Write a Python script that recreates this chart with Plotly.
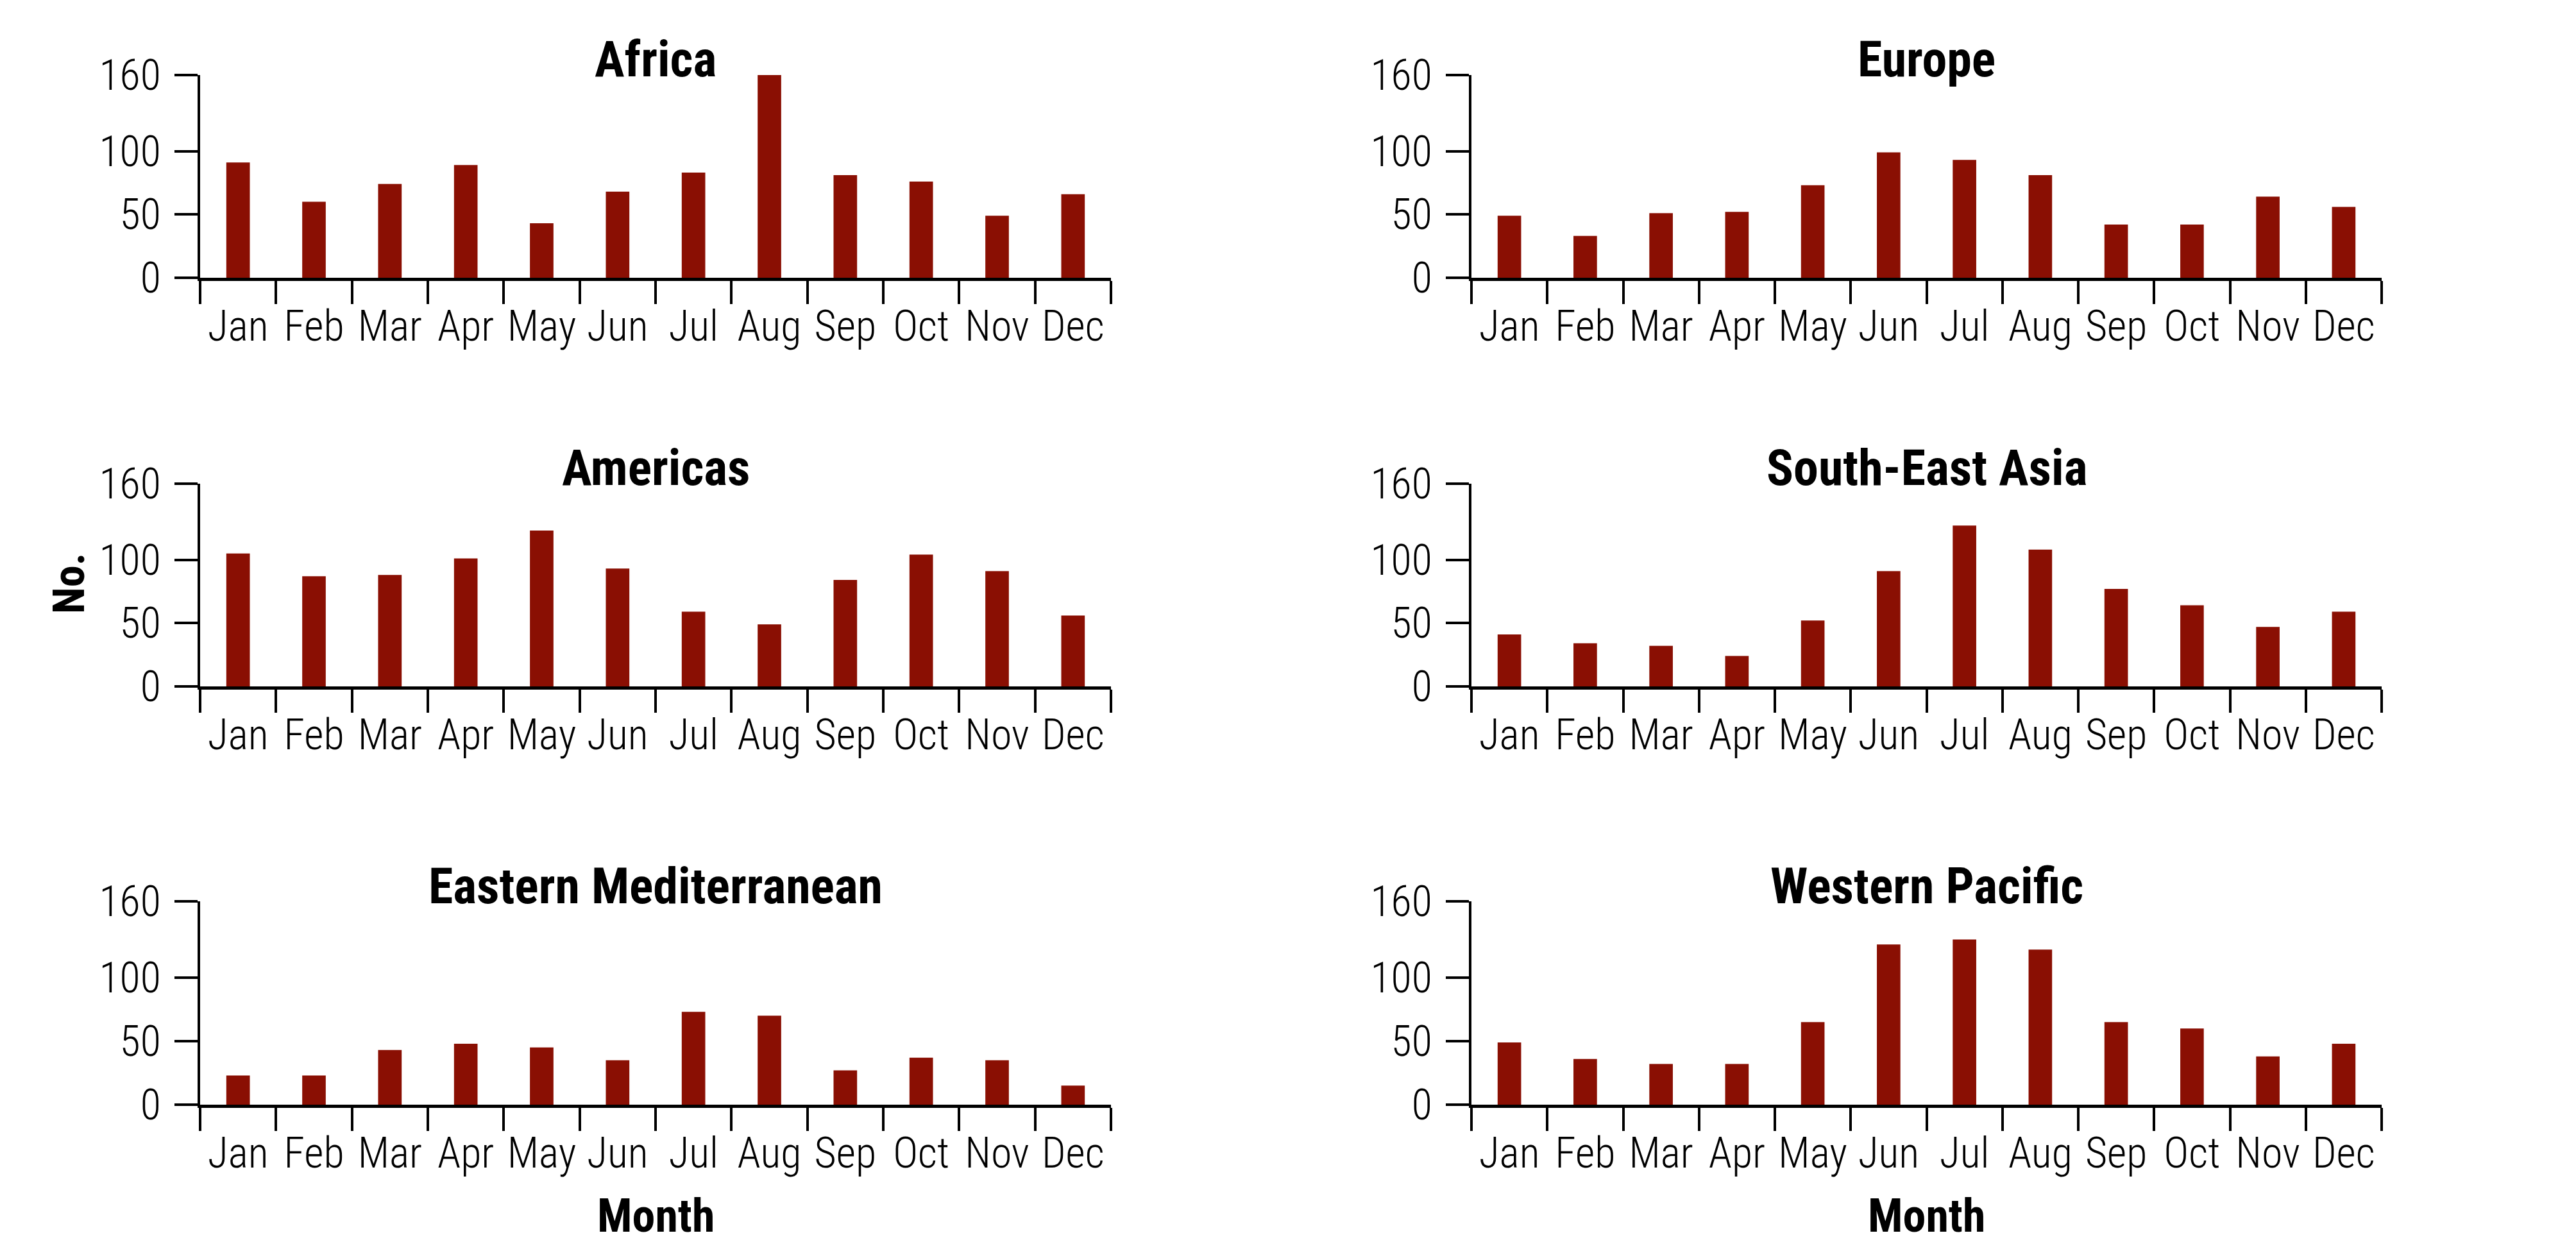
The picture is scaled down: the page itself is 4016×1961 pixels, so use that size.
import plotly.graph_objects as go
from plotly.subplots import make_subplots

months = ["Jan", "Feb", "Mar", "Apr", "May", "Jun", "Jul", "Aug", "Sep", "Oct", "Nov", "Dec"]

africa = [91, 60, 74, 89, 43, 68, 83, 160, 81, 76, 49, 66]
europe = [49, 33, 51, 52, 73, 99, 93, 81, 42, 42, 64, 56]
americas = [105, 87, 88, 101, 123, 93, 59, 49, 84, 104, 91, 56]
south_east_asia = [41, 34, 32, 24, 52, 91, 127, 108, 77, 64, 47, 59]
eastern_mediterranean = [23, 23, 43, 48, 45, 35, 73, 70, 27, 37, 35, 15]
western_pacific = [49, 36, 32, 32, 65, 126, 130, 122, 65, 60, 38, 48]

panels = [
    ("Africa", africa),
    ("Europe", europe),
    ("Americas", americas),
    ("South-East Asia", south_east_asia),
    ("Eastern Mediterranean", eastern_mediterranean),
    ("Western Pacific", western_pacific),
]

y_ticks = [0, 50, 100, 160]

BAR_COLOR = "#8a0f03"
FONT = "Roboto Condensed, Liberation Sans Narrow, Roboto, sans-serif"

# page is 4016x1961, the html body adds an 8px margin around the figure
PAGE_W, PAGE_H, PAD = 4016, 1961, 8
W, H = PAGE_W - 2 * PAD, PAGE_H - 2 * PAD


def px_x(x):
    return (x - PAD) / W


def px_y(y):
    return 1 - (y - PAD) / H


# subplot edges in page pixels, measured on the reference
col_px = [(312, 1732), (2294, 3713)]
row_px = [(117, 433), (754, 1070), (1405, 1722)]
col_domains = [[px_x(a), px_x(b)] for a, b in col_px]
row_domains = [[px_y(b), px_y(a)] for a, b in row_px]

tick_font = {"family": FONT, "size": 66, "color": "black", "weight": 300}

fig = make_subplots(rows=3, cols=2)

annotations = []
for i, (name, values) in enumerate(panels):
    row, col = i // 2 + 1, i % 2 + 1
    fig.add_trace(
        go.Bar(
            x=months,
            y=values,
            marker={"color": BAR_COLOR, "line": {"width": 0}},
            width=0.31,
            showlegend=False,
            hovertemplate="%{x}: %{y}<extra>" + name + "</extra>",
        ),
        row=row,
        col=col,
    )
    xd = col_domains[col - 1]
    yd = row_domains[row - 1]
    fig.update_xaxes(
        domain=xd,
        type="category",
        range=[-0.5, 11.5],
        automargin=False,
        tickangle=0,
        showline=True,
        linecolor="black",
        linewidth=5,
        ticks="outside",
        tickson="boundaries",
        ticklen=36,
        tickwidth=4,
        tickcolor="black",
        tickfont=tick_font,
        ticklabelstandoff=14,
        showgrid=False,
        zeroline=False,
        row=row,
        col=col,
    )
    fig.update_yaxes(
        domain=yd,
        range=[0, 160],
        tickvals=y_ticks,
        automargin=False,
        showline=True,
        linecolor="black",
        linewidth=4,
        ticks="outside",
        ticklen=36,
        tickwidth=4,
        tickcolor="black",
        tickfont=tick_font,
        ticklabelstandoff=8,
        showgrid=False,
        zeroline=False,
        row=row,
        col=col,
    )
    annotations.append(
        {
            "text": "<b>" + name + "</b>",
            "x": (xd[0] + xd[1]) / 2,
            "y": yd[1],
            "xref": "paper",
            "yref": "paper",
            "xanchor": "center",
            "yanchor": "middle",
            "yshift": 24,
            "showarrow": False,
            "font": {"family": FONT, "size": 78, "color": "black"},
        }
    )

# axis titles
for xd in col_domains:
    annotations.append(
        {
            "text": "<b>Month</b>",
            "x": (xd[0] + xd[1]) / 2,
            "y": px_y(1895),
            "xref": "paper",
            "yref": "paper",
            "xanchor": "center",
            "yanchor": "middle",
            "showarrow": False,
            "font": {"family": FONT, "size": 72, "color": "black"},
        }
    )
annotations.append(
    {
        "text": "<b>No.</b>",
        "x": px_x(108),
        "y": px_y(910),
        "xref": "paper",
        "yref": "paper",
        "xanchor": "center",
        "yanchor": "middle",
        "textangle": -90,
        "showarrow": False,
        "font": {"family": FONT, "size": 68, "color": "black"},
    }
)

fig.update_layout(
    width=W,
    height=H,
    margin={"l": 0, "r": 0, "t": 0, "b": 0},
    plot_bgcolor="white",
    paper_bgcolor="white",
    bargap=0.69,
    annotations=annotations,
    font={"family": FONT, "color": "black"},
)

fig.write_html("out.html")
